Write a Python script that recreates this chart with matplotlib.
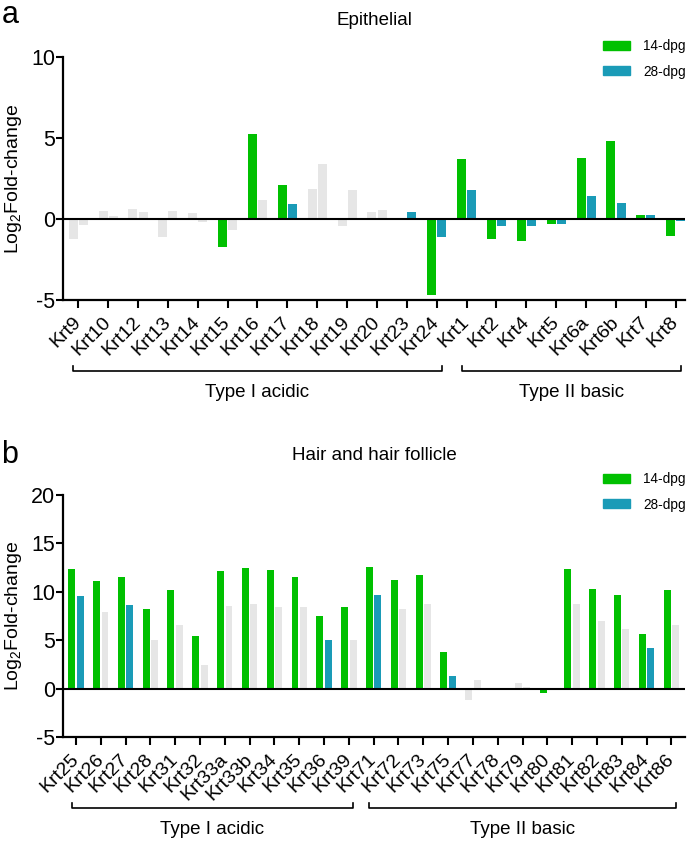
"""Keratin gene expression, log2 fold-change at 14 and 28 dpg"""

import numpy as np
import matplotlib

matplotlib.use("Agg")
import matplotlib.pyplot as plt
from matplotlib.patches import Patch
from matplotlib.transforms import blended_transform_factory

plt.rcParams["font.family"] = ["Liberation Sans", "DejaVu Sans"]
plt.rcParams["mathtext.fontset"] = "custom"
plt.rcParams["mathtext.rm"] = "Liberation Sans"
plt.rcParams["mathtext.default"] = "regular"

GREEN = "#00C000"
BLUE = "#1A9BB7"
GRAY = "#E6E6E6"
NARROW = ["Liberation Sans Narrow", "Liberation Sans"]
W, H = 688, 843

# panel a - epithelial keratins
cats_a = ["Krt9", "Krt10", "Krt12", "Krt13", "Krt14", "Krt15", "Krt16", "Krt17",
          "Krt18", "Krt19", "Krt20", "Krt23", "Krt24", "Krt1", "Krt2", "Krt4",
          "Krt5", "Krt6a", "Krt6b", "Krt7", "Krt8"]
a_14 = [-1.23, 0.47, 0.62, -1.13, 0.37, -1.73, 5.27, 2.12, 1.87, -0.45, 0.41,
        0.0, -4.67, 3.68, -1.23, -1.38, -0.3, 3.77, 4.84, 0.25, -1.03]
a_28 = [-0.39, 0.2, 0.41, 0.47, -0.2, -0.7, 1.2, 0.9, 3.37, 1.77, 0.53,
        0.45, -1.09, 1.79, -0.43, -0.45, -0.33, 1.42, 1.0, 0.25, -0.12]
a_sig14 = [0, 0, 0, 0, 0, 1, 1, 1, 0, 0, 0, 0, 1, 1, 1, 1, 1, 1, 1, 1, 1]
a_sig28 = [0, 0, 0, 0, 0, 0, 0, 1, 0, 0, 0, 1, 1, 1, 1, 1, 1, 1, 1, 1, 1]
a_groups = [("Type I acidic", 0, 12), ("Type II basic", 13, 20)]

# panel b - hair and hair follicle keratins
cats_b = ["Krt25", "Krt26", "Krt27", "Krt28", "Krt31", "Krt32", "Krt33a", "Krt33b",
          "Krt34", "Krt35", "Krt36", "Krt39", "Krt71", "Krt72", "Krt73", "Krt75",
          "Krt77", "Krt78", "Krt79", "Krt80", "Krt81", "Krt82", "Krt83", "Krt84",
          "Krt86"]
b_14 = [12.4, 11.1, 11.55, 8.25, 10.24, 5.5, 12.17, 12.5, 12.27, 11.55, 7.56, 8.49,
        12.6, 11.27, 11.75, 3.83, -1.1, 0.1, 0.65, -0.45, 12.37, 10.31, 9.66, 5.7,
        10.24]
b_28 = [9.55, 7.97, 8.7, 5.07, 6.63, 2.48, 8.59, 8.8, 8.49, 8.42, 5.07, 5.07,
        9.73, 8.25, 8.73, 1.34, 0.9, 0.1, 0.17, 0.0, 8.76, 6.98, 6.22, 4.17, 6.63]
b_sig14 = [1, 1, 1, 1, 1, 1, 1, 1, 1, 1, 1, 1, 1, 1, 1, 1, 0, 0, 0, 1, 1, 1, 1, 1, 1]
b_sig28 = [1, 0, 1, 0, 0, 0, 0, 0, 0, 0, 1, 0, 1, 0, 0, 1, 0, 0, 0, 0, 0, 0, 0, 1, 0]
b_groups = [("Type I acidic", 0, 11), ("Type II basic", 12, 24)]


def panel(fig, rect, cats, v14, v28, s14, s28, groups, ylim, yticks, width,
          xlim, title, title_y, letter, letter_y, leg_y):
    ax = fig.add_axes(rect)
    x = np.arange(len(cats))
    c14 = [GREEN if s else GRAY for s in s14]
    c28 = [BLUE if s else GRAY for s in s28]
    ax.bar(x - 0.17, v14, width, color=c14, zorder=2)
    ax.bar(x + 0.17, v28, width, color=c28, zorder=2)
    ax.axhline(0, color="black", lw=1.5, zorder=3)

    ax.set_xlim(*xlim)
    ax.set_ylim(*ylim)
    ax.set_yticks(yticks)
    ax.set_yticklabels([str(t) for t in yticks], fontsize=15.5, family=NARROW)
    ax.set_xticks(x)
    ax.set_xticklabels(cats, rotation=45, ha="right", va="center",
                       rotation_mode="anchor", fontsize=14, family=NARROW)
    for s in ("top", "right"):
        ax.spines[s].set_visible(False)
    for s in ("left", "bottom"):
        ax.spines[s].set_linewidth(1.6)
    ax.tick_params(axis="y", length=5, width=1.5, pad=1)
    ax.tick_params(axis="x", length=6, width=1.5, pad=8)
    ax.set_ylabel(r"Log$_2$Fold-change", fontsize=14)
    ax.yaxis.set_label_coords(-0.064, 0.5)

    # group brackets under the tick labels
    tr = blended_transform_factory(ax.transData, ax.transAxes)
    for name, i0, i1 in groups:
        xs = [i0 - 0.17, i0 - 0.17, i1 + 0.17, i1 + 0.17]
        ys = [-0.271, -0.291, -0.291, -0.271]
        ax.plot(xs, ys, color="black", lw=1.2, transform=tr, clip_on=False)
        ax.text((i0 + i1) / 2, -0.38, name, transform=tr, ha="center",
                va="center", fontsize=13.5, family=NARROW)

    fig.text(374 / W, 1 - title_y / H, title, ha="center", va="baseline",
             fontsize=13.5, family=NARROW)
    fig.text(0.002, 1 - letter_y / H, letter, ha="left", va="baseline",
             fontsize=22)

    handles = [Patch(color=GREEN, label="14-dpg"), Patch(color=BLUE, label="28-dpg")]
    fig.legend(handles=handles, loc="upper left",
               bbox_to_anchor=(603 / W, 1 - leg_y / H), frameon=False,
               prop={"size": 9.8, "family": NARROW}, handlelength=1.95,
               handleheight=0.65, handletextpad=1.0, labelspacing=0.85,
               borderpad=0, borderaxespad=0)
    return ax


fig = plt.figure(figsize=(W / 100, H / 100), dpi=100)

panel(fig, [63.3 / W, 1 - 300 / H, 621.7 / W, 243 / H], cats_a, a_14, a_28,
      a_sig14, a_sig28, a_groups, (-5, 10), [-5, 0, 5, 10], 0.3, (-0.5, 20.31),
      "Epithelial", 25, "a", 23, 39)
panel(fig, [63.3 / W, 1 - 737.3 / H, 621.7 / W, 242.3 / H], cats_b, b_14, b_28,
      b_sig14, b_sig28, b_groups, (-5, 20), [-5, 0, 5, 10, 15, 20], 0.28,
      (-0.51, 24.55), "Hair and hair follicle", 460, "b", 463, 472)

fig.savefig("out.png", dpi=100)
